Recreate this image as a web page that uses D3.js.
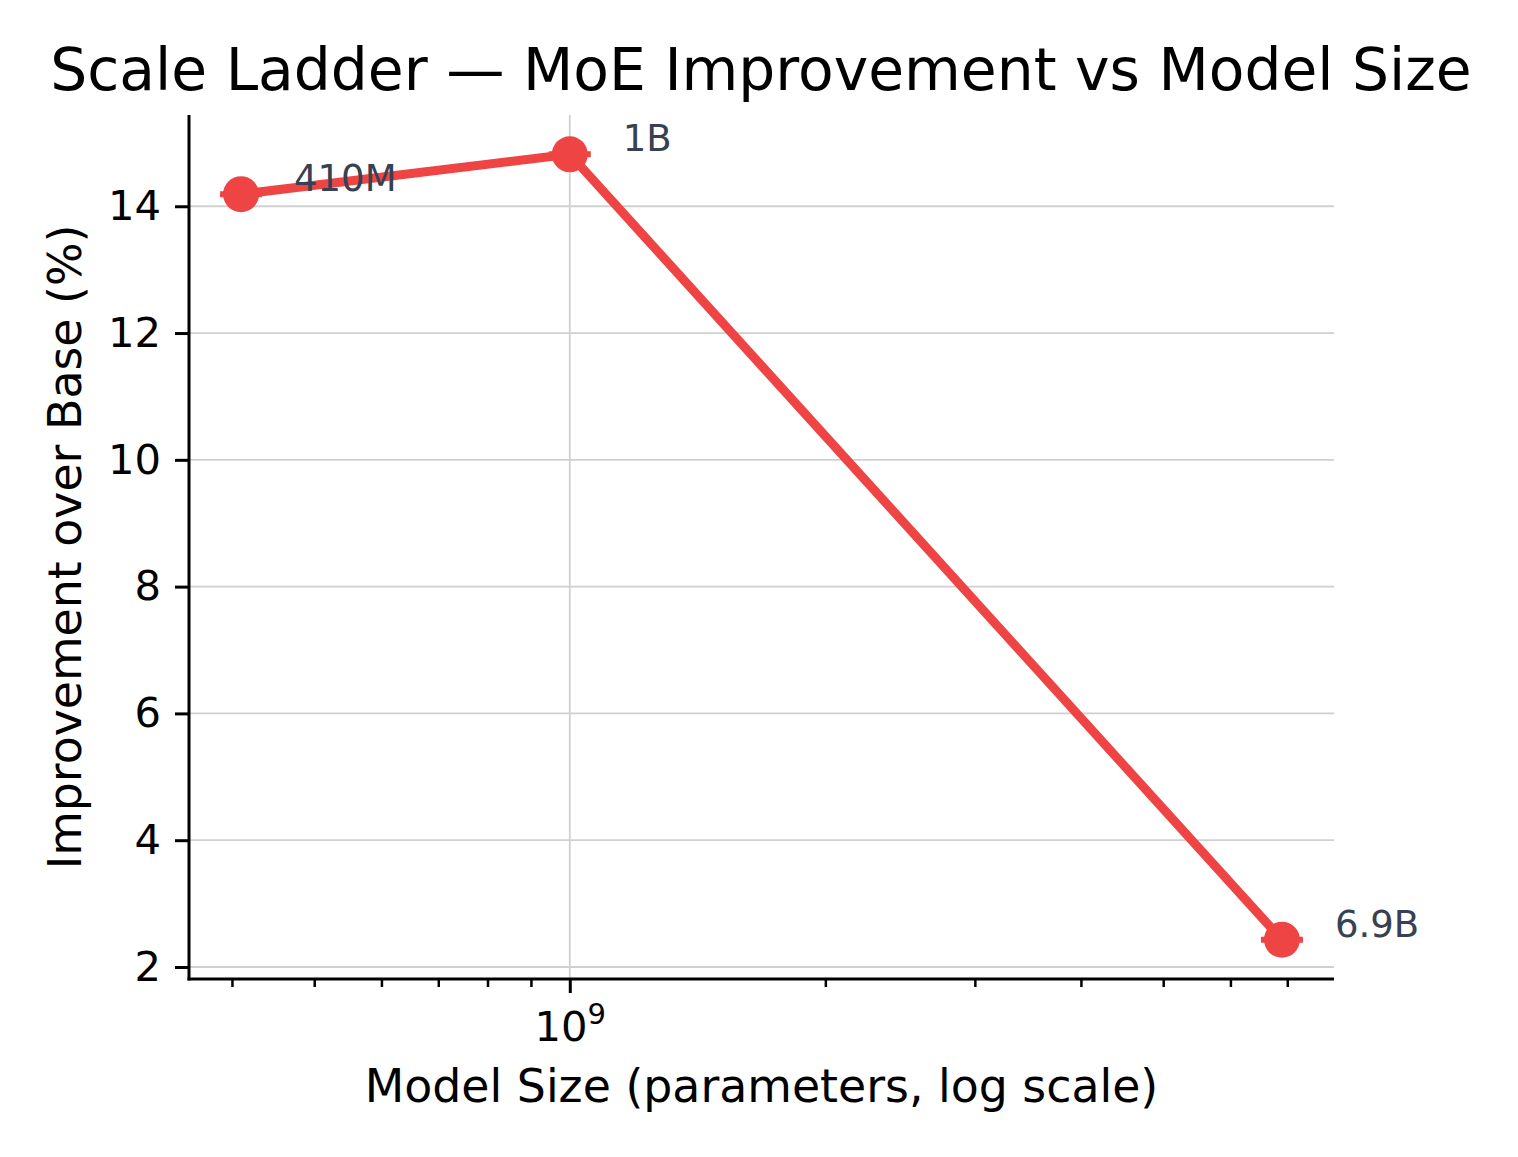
<!DOCTYPE html>
<html>
<head>
<meta charset="utf-8">
<script src="https://cdn.jsdelivr.net/npm/d3@7"></script>
<style>
  body { margin: 0; background: #fff; }
  text { font-family: "DejaVu Sans", sans-serif; }
</style>
</head>
<body>
<script>
// values
var sizes = [4.1e8, 1e9, 6.9e9];
var sizeLabels = ['410M', '1B', '6.9B'];
var improvement = [14.19, 14.82, 2.43];
var yTicks = [2, 4, 6, 8, 10, 12, 14];
var xMajorTicks = [1e9];
var xMinorTicks = [4e8, 5e8, 6e8, 7e8, 8e8, 9e8, 2e9, 3e9, 4e9, 5e9, 6e9, 7e9];

var W = 1518, H = 1157;
var mLeft = 189, mRight = 1334, mTop = 115, mBottom = 979;
var red = '#ef4444';

var svg = d3.select('body').append('svg')
    .attr('width', W)
    .attr('height', H)

// log x with matplotlib-like 5% margins in log space
var lx = sizes.map(function (d) { return Math.log10(d) });
var lspan = d3.max(lx) - d3.min(lx);
var x = d3.scaleLog()
    .domain([Math.pow(10, d3.min(lx) - 0.05 * lspan), Math.pow(10, d3.max(lx) + 0.05 * lspan)])
    .range([mLeft, mRight])

var yspan = d3.max(improvement) - d3.min(improvement);
var y = d3.scaleLinear()
    .domain([d3.min(improvement) - 0.05 * yspan, d3.max(improvement) + 0.05 * yspan])
    .range([mBottom, mTop])

// grid
svg.append('g').selectAll('line')
    .data(yTicks)
    .enter().append('line')
    .attr('x1', mLeft).attr('x2', mRight)
    .attr('y1', function (d) { return y(d) })
    .attr('y2', function (d) { return y(d) })
    .attr('stroke', '#d0d0d0')
    .attr('stroke-width', 1.8)

svg.append('g').selectAll('line')
    .data(xMajorTicks)
    .enter().append('line')
    .attr('y1', mTop).attr('y2', mBottom)
    .attr('x1', function (d) { return x(d) })
    .attr('x2', function (d) { return x(d) })
    .attr('stroke', '#d0d0d0')
    .attr('stroke-width', 1.8)

// axes
var yAxis = d3.axisLeft(y).tickValues(yTicks).tickSize(14).tickPadding(14).tickFormat(d3.format('d'));
var gy = svg.append('g').attr('transform', 'translate(' + mLeft + ',0)').call(yAxis);
gy.select('.domain').remove();
gy.selectAll('.tick line').attr('stroke', '#000').attr('stroke-width', 3);
gy.selectAll('.tick text').attr('font-size', 41.7).attr('fill', '#000').attr('font-family', 'DejaVu Sans');

var xMinor = d3.axisBottom(x).tickValues(xMinorTicks).tickSize(8).tickFormat('');
var gxm = svg.append('g').attr('transform', 'translate(0,' + mBottom + ')').call(xMinor);
gxm.select('.domain').remove();
gxm.selectAll('.tick line').attr('stroke', '#000').attr('stroke-width', 2.5);

var xAxis = d3.axisBottom(x).tickValues(xMajorTicks).tickSize(14).tickPadding(14).tickFormat('');
var gx = svg.append('g').attr('transform', 'translate(0,' + mBottom + ')').call(xAxis);
gx.select('.domain').remove();
gx.selectAll('.tick line').attr('stroke', '#000').attr('stroke-width', 3);
var xt = gx.selectAll('.tick').append('text')
    .attr('y', 62)
    .attr('text-anchor', 'middle')
    .attr('font-size', 41.7)
    .attr('fill', '#000')
xt.append('tspan').text('10');
xt.append('tspan').attr('dy', -17).attr('font-size', 29).text('9');

// spines
svg.append('line').attr('x1', mLeft).attr('x2', mLeft).attr('y1', mTop).attr('y2', mBottom + 1.5)
    .attr('stroke', '#000').attr('stroke-width', 3)
svg.append('line').attr('x1', mLeft - 1.5).attr('x2', mRight).attr('y1', mBottom).attr('y2', mBottom)
    .attr('stroke', '#000').attr('stroke-width', 3)

// line
var pts = sizes.map(function (d, i) { return { s: d, v: improvement[i], label: sizeLabels[i] } });
var line = d3.line()
    .x(function (d) { return x(d.s) })
    .y(function (d) { return y(d.v) })

svg.append('path')
    .datum(pts)
    .attr('d', line)
    .attr('fill', 'none')
    .attr('stroke', red)
    .attr('stroke-width', 9)
    .attr('stroke-linejoin', 'round')

// error bar caps
svg.append('g').selectAll('line')
    .data(pts)
    .enter().append('line')
    .attr('x1', function (d) { return x(d.s) - 21 })
    .attr('x2', function (d) { return x(d.s) + 21 })
    .attr('y1', function (d) { return y(d.v) })
    .attr('y2', function (d) { return y(d.v) })
    .attr('stroke', red)
    .attr('stroke-width', 6)

svg.append('g').selectAll('circle')
    .data(pts)
    .enter().append('circle')
    .attr('cx', function (d) { return x(d.s) })
    .attr('cy', function (d) { return y(d.v) })
    .attr('r', 18)
    .attr('fill', red)

svg.append('g').selectAll('text')
    .data(pts)
    .enter().append('text')
    .attr('x', function (d) { return x(d.s) + 53 })
    .attr('y', function (d) { return y(d.v) - 3 })
    .attr('font-size', 37)
    .attr('fill', '#374151')
    .text(function (d) { return d.label })

// labels
svg.append('text')
    .attr('x', (mLeft + mRight) / 2)
    .attr('y', 1102)
    .attr('text-anchor', 'middle')
    .attr('font-size', 45.8)
    .attr('fill', '#000')
    .text('Model Size (parameters, log scale)')

svg.append('text')
    .attr('transform', 'translate(81,' + ((mTop + mBottom) / 2) + ') rotate(-90)')
    .attr('text-anchor', 'middle')
    .attr('font-size', 45.8)
    .attr('fill', '#000')
    .text('Improvement over Base (%)')

svg.append('text')
    .attr('x', 761)
    .attr('y', 90)
    .attr('text-anchor', 'middle')
    .attr('font-size', 58.3)
    .attr('fill', '#000')
    .text('Scale Ladder — MoE Improvement vs Model Size')
</script>
</body>
</html>
